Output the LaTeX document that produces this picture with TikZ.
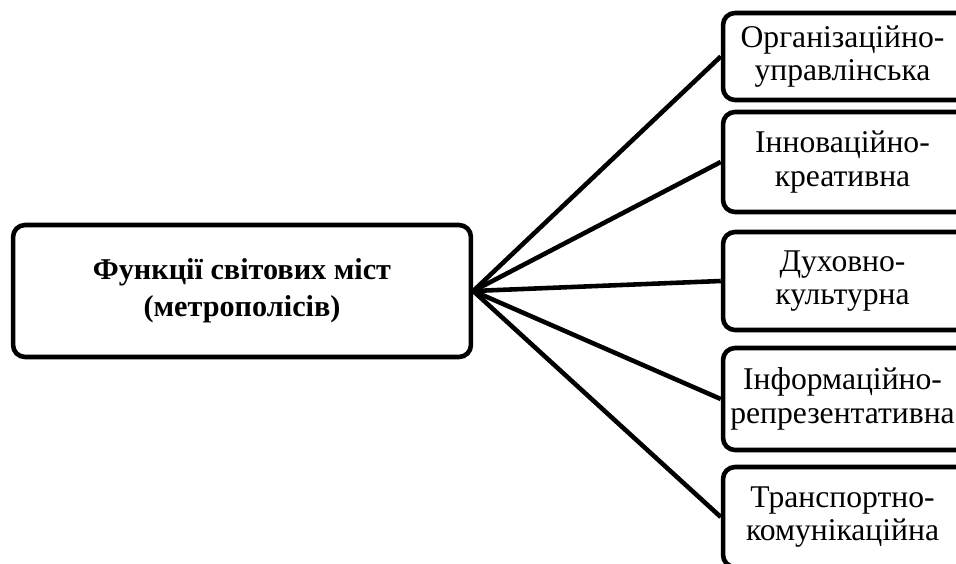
\documentclass[tikz,border=0pt]{standalone}
\usepackage{fontspec}
\setmainfont{Liberation Serif}
\usetikzlibrary{positioning}
\tikzset{
	funcbox/.style = {draw, line width=2.6pt, rounded corners=0.24cm, align=center,
		minimum width=5cm, inner sep=0pt, font=\fontsize{18}{19}\selectfont},
	mainbox/.style = {draw, line width=2.6pt, rounded corners=0.24cm, align=center,
		minimum width=9.16cm, minimum height=2.64cm, font=\fontsize{17.2}{21}\selectfont\bfseries},
	link/.style = {line width=2.6pt}
}

\begin{document}
\begin{tikzpicture}[x=0.02cm, y=-0.02cm]
	\clip (0,0) rectangle (956,564);

	\node [mainbox] (centre) at (242,291) {Функції світових міст\\(метрополісів)};

	% function boxes, partly cut at the right edge
	\node [funcbox, minimum height=1.74cm] (org) at (848,56.5) {\hspace*{-0.22cm}Організаційно-\\\hspace*{-0.22cm}управлінська};
	\node [funcbox, minimum height=2cm] (innov) at (848,162) {\hspace*{-0.22cm}Інноваційно-\\\hspace*{-0.22cm}креативна};
	\node [funcbox, minimum height=1.96cm] (dukh) at (848,281) {\hspace*{-0.22cm}Духовно-\\\hspace*{-0.22cm}культурна};
	\node [funcbox, minimum height=2.04cm] (inform) at (848,399) {\hspace*{-0.22cm}Інформаційно-\\\hspace*{-0.22cm}репрезентативна};
	\node [funcbox, minimum height=2cm] (transp) at (848,517) {\hspace*{-0.22cm}Транспортно-\\\hspace*{-0.22cm}комунікаційна};

	\foreach \f in {org, innov, dukh, inform, transp}
		\draw [link] (centre.east) -- (\f.west);
\end{tikzpicture}
\end{document}
